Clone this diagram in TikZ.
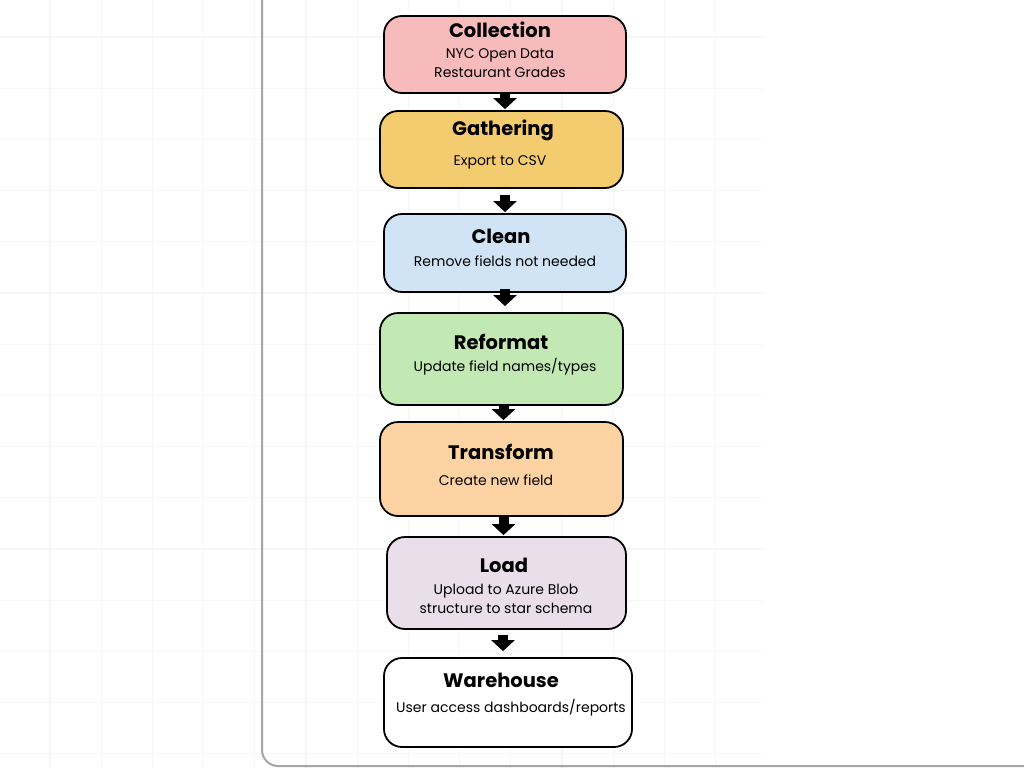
\documentclass[tikz,border=0pt]{standalone}
\usepackage{fontspec}
\setmainfont{Poppins}
\usetikzlibrary{arrows.meta}
\definecolor{cPink}{RGB}{248,187,187}
\definecolor{cGold}{RGB}{244,204,112}
\definecolor{cBlue}{RGB}{208,228,245}
\definecolor{cGreen}{RGB}{194,232,180}
\definecolor{cPeach}{RGB}{254,211,163}
\definecolor{cLilac}{RGB}{234,222,235}
\definecolor{cGrid}{RGB}{245,247,247}
\definecolor{cFrame}{RGB}{165,165,165}
\tikzset{
  stagebox/.style={draw=black, line width=1.8pt, rounded corners=18pt, inner sep=0pt},
  ttl/.style={font=\bfseries\fontsize{19.5}{21}\selectfont, inner sep=0pt},
  sub/.style={font=\fontsize{14}{19}\selectfont, align=center, inner sep=0pt},
  blk/.style={line width=10pt, -{Triangle[width=23pt,length=11pt]}, black},
  gridline/.style={cGrid, line width=1.3pt}
}
\begin{document}
\begin{tikzpicture}[x=1pt,y=-1pt]
\useasboundingbox (0,0) rectangle (1024,768);
\fill[white] (0,0) rectangle (1024,768);
% faint grid
\foreach \i in {0,...,13} {\draw[gridline] (50+51.2*\i,0) -- (50+51.2*\i,768);}
\foreach \j in {0,...,14} {\draw[gridline] (0,37+51.2*\j) -- (763,37+51.2*\j);}
% frame
\draw[cFrame, line width=2pt, rounded corners=16pt] (262,-20) -- (262,766) -- (1040,766);
% boxes
\node[stagebox, fill=cPink,  minimum width=242pt, minimum height=77pt] (c1) at (505,54.5) {};
\node[stagebox, fill=cGold,  minimum width=243pt, minimum height=77pt] (c2) at (501.5,149.5) {};
\node[stagebox, fill=cBlue,  minimum width=242pt, minimum height=78pt] (c3) at (505,253) {};
\node[stagebox, fill=cGreen, minimum width=243pt, minimum height=92pt] (c4) at (501.5,359) {};
\node[stagebox, fill=cPeach, minimum width=243pt, minimum height=94pt] (c5) at (501.5,469) {};
\node[stagebox, fill=cLilac, minimum width=239pt, minimum height=92pt] (c6) at (506.5,583) {};
\node[stagebox, fill=white,  minimum width=248pt, minimum height=89pt] (c7) at (508,702.5) {};
% texts
\node[ttl] (t1) at (500,30) {Collection};
\node[sub] (s1) at (500,63.5) {NYC Open Data\\Restaurant Grades};
\node[ttl] (t2) at (503,130) {Gathering};
\node[sub] (s2) at (500,162) {Export to CSV};
\node[ttl] (t3) at (501,236) {Clean};
\node[sub] (s3) at (505,261) {Remove fields not needed};
\node[ttl] (t4) at (501,342) {Reformat};
\node[sub] (s4) at (505,367) {Update field names/types};
\node[ttl] (t5) at (501,452) {Transform};
\node[sub] (s5) at (496,480) {Create new field};
\node[ttl] (t6) at (504,565) {Load};
\node[sub] (s6) at (506,598.5) {Upload to Azure Blob\\structure to star schema};
\node[ttl] (t7) at (501,680) {Warehouse};
\node[sub] (s7) at (511,708) {User access dashboards/reports};
% arrows
\draw[blk] ([yshift=2pt]c1.south) -- ([yshift=1pt]c1.south |- c2.north);
\draw[blk] ([xshift=3.5pt,yshift=-6pt]c2.south) -- ([xshift=3.5pt,yshift=1pt]c2.south |- c3.north);
\draw[blk] ([yshift=4pt]c3.south) -- ([yshift=6pt]c3.south |- c4.north);
\draw[blk] ([xshift=2pt,yshift=2pt]c4.south) -- ([xshift=2pt,yshift=1pt]c4.south |- c5.north);
\draw[blk] ([xshift=2pt,yshift=1pt]c5.south) -- ([xshift=2pt,yshift=1pt]c5.south |- c6.north);
\draw[blk] ([xshift=-3.5pt,yshift=-5pt]c6.south) -- ([xshift=-3.5pt,yshift=6pt]c6.south |- c7.north);
\end{tikzpicture}
\end{document}
